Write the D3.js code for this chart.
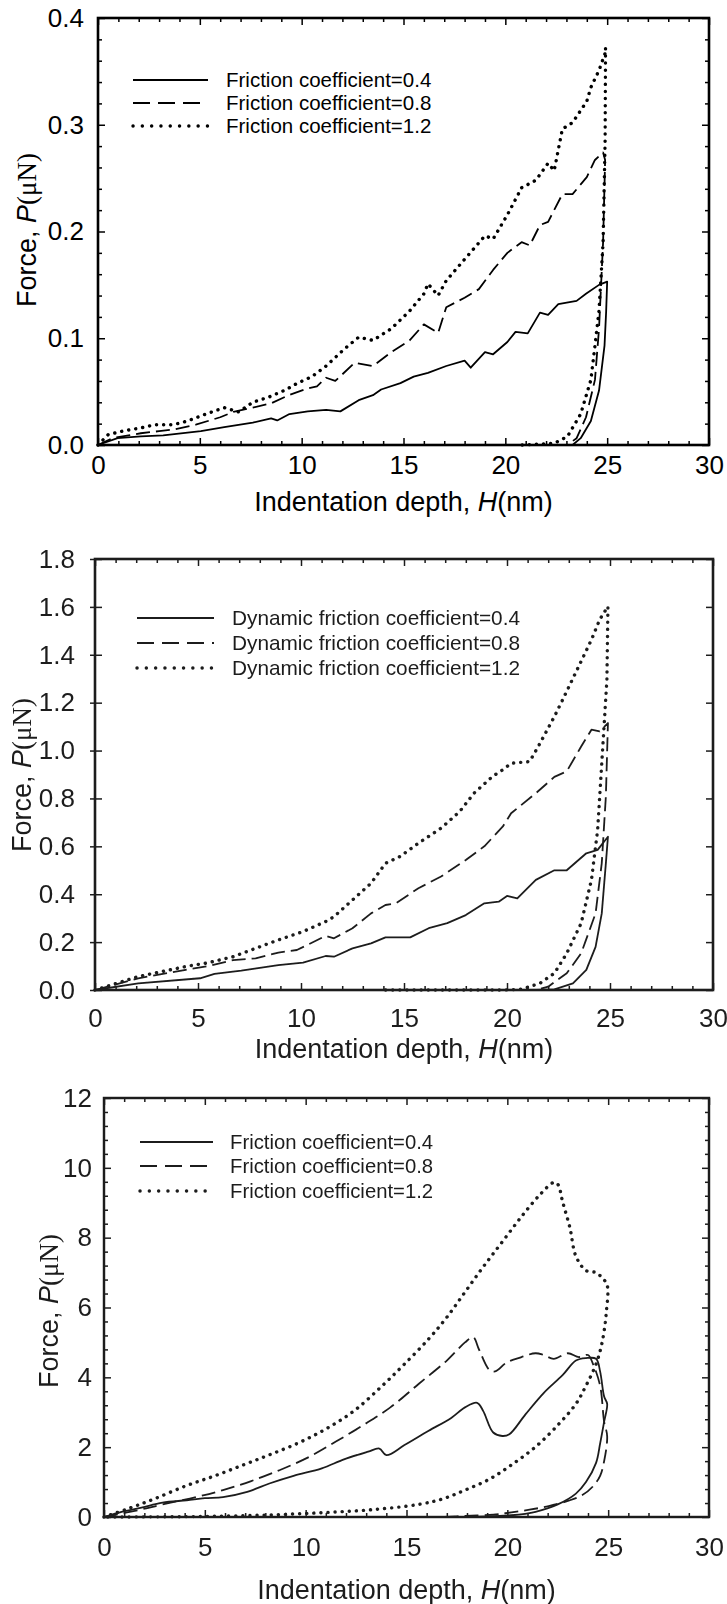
<!DOCTYPE html>
<html>
<head>
<meta charset="utf-8">
<script src="https://cdn.jsdelivr.net/npm/d3@7"></script>
<style>
  html, body { margin: 0; padding: 0; background: #fff; }
  svg { display: block; }
</style>
</head>
<body>
<svg id="fig" width="727" height="1604"></svg>
<script>
// ---- shared axis values ----
const depthTicks = [0, 5, 10, 15, 20, 25, 30];
const forceTicksA = [0, 0.1, 0.2, 0.3, 0.4];
const forceTicksB = [0, 0.2, 0.4, 0.6, 0.8, 1.0, 1.2, 1.4, 1.6, 1.8];
const forceTicksC = [0, 2, 4, 6, 8, 10, 12];

const legendA = ["Friction coefficient=0.4", "Friction coefficient=0.8", "Friction coefficient=1.2"];
const legendB = ["Dynamic friction coefficient=0.4", "Dynamic friction coefficient=0.8", "Dynamic friction coefficient=1.2"];
const legendC = ["Friction coefficient=0.4", "Friction coefficient=0.8", "Friction coefficient=1.2"];

// ---- panel A: [depth nm, force uN], loading then unloading ----
const aMu04 = [[0,0],[0.96,0.0064],[2.1,0.008],[3.2,0.009],[5.05,0.0129],[6.2,0.0167],[7.6,0.021],[8.5,0.025],[8.8,0.023],[9.4,0.029],[10.3,0.0315],[11.2,0.033],[11.9,0.0315],[12.8,0.042],[13.5,0.0467],[13.9,0.052],[14.85,0.058],[15.5,0.064],[16.2,0.0676],[17.1,0.074],[18.0,0.079],[18.3,0.0724],[19.0,0.087],[19.4,0.085],[20.1,0.0965],[20.5,0.106],[21.1,0.1046],[21.7,0.124],[22.1,0.122],[22.6,0.132],[23.5,0.135],[23.96,0.1416],[24.6,0.15],[25.0,0.153],[24.95,0.125],[24.87,0.093],[24.6,0.051],[24.2,0.0225],[23.7,0.0064],[23.3,0]];
const aMu08 = [[0,0],[0.7,0.0064],[2.1,0.011],[3,0.013],[3.7,0.0145],[4.8,0.019],[6,0.026],[6.65,0.031],[7.6,0.035],[8.5,0.039],[9.4,0.047],[10.3,0.053],[10.75,0.055],[11.2,0.063],[11.65,0.060],[12.6,0.077],[13.5,0.074],[14.4,0.087],[15.3,0.098],[16,0.113],[16.7,0.105],[17.1,0.129],[18,0.138],[18.7,0.146],[19.4,0.164],[20.1,0.18],[20.8,0.19],[21.2,0.187],[21.7,0.206],[22.1,0.209],[22.8,0.235],[23.3,0.235],[24,0.251],[24.4,0.267],[24.8,0.274],[24.9,0.267],[24.8,0.19],[24.6,0.109],[24.4,0.061],[23.96,0.026],[23.5,0.0064],[23.05,0]];
const aMu12 = [[0,0],[0.5,0.0097],[1.2,0.013],[2.1,0.016],[2.8,0.019],[3.7,0.019],[4.4,0.0225],[5.3,0.029],[6.2,0.035],[6.9,0.031],[7.6,0.040],[8.4,0.045],[9.2,0.0515],[9.8,0.058],[10.5,0.064],[11.2,0.074],[12.1,0.09],[12.8,0.101],[13.5,0.098],[14.4,0.109],[15.3,0.1255],[16,0.1416],[16.2,0.151],[16.7,0.14],[17.1,0.154],[18,0.174],[19,0.196],[19.4,0.193],[20.1,0.2156],[20.8,0.241],[21.5,0.248],[22.1,0.264],[22.4,0.257],[22.8,0.296],[23.3,0.302],[24,0.322],[24.2,0.335],[24.6,0.351],[24.9,0.367],[24.92,0.372],[24.9,0.286],[24.8,0.19],[24.6,0.126],[24.4,0.093],[24.2,0.061],[23.7,0.029],[23.05,0.008],[22.4,0.0016],[20.8,0]];

// ---- panel B ----
const bMu04 = [[0,0],[2.1,0.028],[5.1,0.049],[5.8,0.067],[7.1,0.081],[8.9,0.104],[10.1,0.114],[11.2,0.142],[11.6,0.139],[12.5,0.174],[13.4,0.195],[14.1,0.22],[15.3,0.22],[16.2,0.258],[17.1,0.279],[18,0.313],[18.9,0.362],[19.6,0.369],[20,0.393],[20.5,0.383],[21.4,0.46],[22.3,0.5],[22.9,0.5],[23.85,0.571],[24.4,0.585],[24.9,0.64],[24.8,0.53],[24.6,0.32],[24.3,0.18],[23.85,0.084],[23.2,0.028],[22.3,0.003],[21.4,0]];
const bMu08 = [[0,0],[2.1,0.049],[4.4,0.084],[5.5,0.1],[6.7,0.125],[7.8,0.132],[8.9,0.156],[9.8,0.167],[11.2,0.226],[11.6,0.216],[12.5,0.258],[13.4,0.32],[14.1,0.355],[14.6,0.362],[15.7,0.425],[16.8,0.474],[18,0.543],[18.9,0.6],[19.8,0.683],[20.2,0.738],[21.4,0.822],[22.3,0.89],[22.9,0.913],[23.6,1.017],[24.1,1.087],[24.5,1.08],[24.9,1.115],[24.8,0.81],[24.6,0.53],[24.3,0.32],[23.6,0.153],[22.9,0.07],[22,0.014],[21.4,0]];
const bMu12 = [[0,0],[2.1,0.056],[4.4,0.098],[5.5,0.114],[6.7,0.139],[7.8,0.174],[8.9,0.209],[10.1,0.244],[11.2,0.286],[11.6,0.306],[12.5,0.376],[13.4,0.446],[14.1,0.529],[14.8,0.557],[15.7,0.613],[16.8,0.676],[17.7,0.745],[18.4,0.822],[19.3,0.892],[19.8,0.92],[20.2,0.947],[21.1,0.954],[21.6,1.03],[22.3,1.142],[22.7,1.212],[23.4,1.337],[24.1,1.463],[24.5,1.547],[24.9,1.602],[24.85,1.296],[24.6,0.947],[24.4,0.669],[24.1,0.46],[23.6,0.279],[22.9,0.153],[22.3,0.07],[21.6,0.028],[20.7,0.003],[19.8,0],[14.1,0]];

// ---- panel C ----
const cMu04 = [[0,0],[0.87,0.15],[1.8,0.26],[2.9,0.41],[4.1,0.48],[5,0.54],[5.9,0.57],[7.1,0.72],[8.2,0.96],[9.4,1.18],[10.8,1.39],[11.9,1.65],[13.1,1.87],[13.65,1.96],[14,1.77],[14.9,2.06],[16.1,2.47],[17.2,2.83],[17.9,3.14],[18.5,3.27],[18.8,3.04],[19.3,2.42],[19.75,2.32],[20.1,2.37],[20.9,2.94],[21.8,3.55],[22.75,4.07],[23.4,4.48],[23.9,4.55],[24.4,4.53],[24.6,4.17],[24.8,3.45],[24.95,3.24],[24.8,2.73],[24.6,2.1],[24.4,1.55],[23.9,1.0],[23.4,0.67],[22.5,0.36],[21.4,0.15],[20.2,0.05],[19,0.02],[17.9,0]];
const cMu08 = [[0,0],[1.8,0.21],[2.9,0.36],[4.56,0.57],[5.9,0.77],[7.3,1.03],[8.7,1.34],[10.1,1.7],[11.5,2.16],[12.85,2.63],[14.2,3.14],[15.6,3.81],[17,4.48],[17.9,5.0],[18.3,5.15],[18.6,4.79],[19.1,4.22],[19.4,4.17],[19.98,4.43],[20.7,4.58],[21.4,4.69],[21.8,4.64],[22.3,4.53],[23,4.69],[23.55,4.58],[24,4.64],[24.25,4.38],[24.6,3.76],[24.8,2.73],[24.95,2.32],[24.8,1.6],[24.6,1.18],[24.25,0.88],[23.7,0.62],[23,0.46],[22.05,0.31],[21.1,0.21],[20.2,0.13],[19.3,0.07],[17.9,0.03],[16.8,0]];
const cMu12 = [[0,0],[1.3,0.26],[2.5,0.52],[4.1,0.9],[5.5,1.18],[6.9,1.49],[8.2,1.78],[9.6,2.11],[11,2.52],[12.4,3.04],[13.8,3.76],[14.9,4.38],[16.1,5.1],[17,5.72],[17.9,6.44],[18.8,7.16],[19.75,7.88],[20.7,8.6],[21.6,9.22],[22.3,9.58],[22.5,9.53],[22.75,9.01],[23.1,8.29],[23.4,7.47],[23.9,7.06],[24.4,7.0],[24.7,6.85],[24.95,6.64],[24.9,5.82],[24.7,5.0],[24.4,4.38],[23.9,3.76],[23.4,3.24],[22.5,2.63],[21.4,2.01],[20.2,1.49],[19.1,1.08],[17.9,0.77],[16.8,0.52],[15.6,0.36],[13.3,0.21],[11,0.13],[8.7,0.07],[6.4,0.03],[4.1,0.01],[0,0]];

const SANS = "'Liberation Sans', Arial, Helvetica, sans-serif";
const SERIF = "'Liberation Serif', 'Times New Roman', serif";

const svg = d3.select("#fig");
svg.append("defs").append("filter").attr("id", "soft")
  .append("feGaussianBlur").attr("stdDeviation", 0.55);

const lineStyles = {
  solid:  { dash: null,      width: 1.8, cap: "butt" },
  dashed: { dash: "14,6",    width: 1.8, cap: "butt" },
  dotted: { dash: "0.1,7",   width: 3.4, cap: "round" }
};

function styleAxis(sel, color, fontSize) {
  sel.select(".domain").remove();
  sel.selectAll("line").attr("stroke", color).attr("stroke-width", 1.5);
  sel.selectAll("text").attr("fill", color)
    .style("font-family", SANS).style("font-size", fontSize + "px");
}

function drawPanel(o) {
  const g = svg.append("g");
  if (o.soft) g.attr("filter", "url(#soft)");
  const [L, R] = o.xr, [B, T] = o.yr;
  const x = d3.scaleLinear().domain([0, 30]).range(o.xr);
  const y = d3.scaleLinear().domain(o.yDomain).range(o.yr);
  const isMajor = (list, v) => list.some(t => Math.abs(t - v) < 1e-9);
  const xMinor = d3.range(0, 30.0001, 1).filter(v => !isMajor(depthTicks, v));
  const yMinor = o.yMinorStep
    ? d3.range(o.yDomain[0], o.yDomain[1] + 1e-9, o.yMinorStep).filter(v => !isMajor(o.yTicks, v))
    : [];
  const col = o.color;

  // bottom axis with labels, inward ticks
  g.append("g").attr("transform", `translate(0,${B})`)
    .call(d3.axisBottom(x).tickValues(depthTicks).tickSize(-7).tickPadding(o.xPad).tickFormat(d3.format("d")))
    .call(s => styleAxis(s, col, o.tickFont));
  g.append("g").attr("transform", `translate(0,${B})`)
    .call(d3.axisBottom(x).tickValues(xMinor).tickSize(-4).tickFormat(""))
    .call(s => styleAxis(s, col, o.tickFont));
  // top
  g.append("g").attr("transform", `translate(0,${T})`)
    .call(d3.axisTop(x).tickValues(depthTicks).tickSize(-7).tickFormat(""))
    .call(s => styleAxis(s, col, o.tickFont));
  g.append("g").attr("transform", `translate(0,${T})`)
    .call(d3.axisTop(x).tickValues(xMinor).tickSize(-4).tickFormat(""))
    .call(s => styleAxis(s, col, o.tickFont));
  // left with labels
  g.append("g").attr("transform", `translate(${L},0)`)
    .call(d3.axisLeft(y).tickValues(o.yTicks).tickSize(-7).tickPadding(o.yPad).tickFormat(d3.format(o.yFormat)))
    .call(s => styleAxis(s, col, o.tickFont));
  if (o.leftOut) {
    g.append("g").attr("transform", `translate(${L},0)`)
      .call(d3.axisLeft(y).tickValues(o.yTicks).tickSize(o.leftOut).tickFormat(""))
      .call(s => styleAxis(s, col, o.tickFont));
  }
  if (yMinor.length) {
    g.append("g").attr("transform", `translate(${L},0)`)
      .call(d3.axisLeft(y).tickValues(yMinor).tickSize(-4).tickFormat(""))
      .call(s => styleAxis(s, col, o.tickFont));
    g.append("g").attr("transform", `translate(${R},0)`)
      .call(d3.axisRight(y).tickValues(yMinor).tickSize(-4).tickFormat(""))
      .call(s => styleAxis(s, col, o.tickFont));
  }
  g.append("g").attr("transform", `translate(${R},0)`)
    .call(d3.axisRight(y).tickValues(o.yTicks).tickSize(-7).tickFormat(""))
    .call(s => styleAxis(s, col, o.tickFont));

  // frame
  g.append("rect").attr("x", L).attr("y", T).attr("width", R - L).attr("height", B - T)
    .attr("fill", "none").attr("stroke", col).attr("stroke-width", o.frameWidth);

  // curves
  const line = d3.line().x(d => x(d[0])).y(d => y(d[1])).curve(o.curve);
  o.series.forEach(s => {
    const st = lineStyles[s.style];
    g.append("path").datum(s.data).attr("d", line)
      .attr("fill", "none").attr("stroke", col)
      .attr("stroke-width", st.width).attr("stroke-linecap", st.cap)
      .attr("stroke-linejoin", "round")
      .attr("stroke-dasharray", st.dash);
  });

  // legend
  const lg = o.legend;
  o.series.forEach((s, i) => {
    const st = lineStyles[s.style];
    const yy = lg.rows[i];
    g.append("line").attr("x1", lg.x0).attr("x2", lg.x1).attr("y1", yy).attr("y2", yy)
      .attr("stroke", col).attr("stroke-width", s.style === "dotted" ? 3.4 : 2.2)
      .attr("stroke-linecap", st.cap)
      .attr("stroke-dasharray", s.style === "dashed" ? "17,8" : s.style === "dotted" ? "0.1,9.2" : null);
    g.append("text").attr("x", lg.tx).attr("y", yy).attr("dy", "0.36em")
      .attr("fill", col).style("font-family", SANS).style("font-size", lg.font + "px")
      .text(lg.labels[i]);
  });

  // x title
  const xt = g.append("text").attr("x", (L + R) / 2).attr("y", o.xTitleY)
    .attr("text-anchor", "middle").attr("fill", col)
    .style("font-family", SANS).style("font-size", o.titleFont + "px");
  xt.append("tspan").text("Indentation depth, ");
  xt.append("tspan").style("font-style", "italic").text("H");
  xt.append("tspan").text("(nm)");

  // y title
  const yt = g.append("text")
    .attr("transform", `translate(${o.yTitleX},${o.yTitleCY}) rotate(-90)`)
    .attr("text-anchor", "middle").attr("fill", col)
    .style("font-family", SANS).style("font-size", o.titleFont + "px");
  yt.append("tspan").text("Force, ");
  yt.append("tspan").style("font-style", "italic").text("P");
  yt.append("tspan").style("font-family", SERIF).text("(\u03BCN)");
}

drawPanel({
  xr: [98, 709], yr: [445, 18], yDomain: [0, 0.4], yTicks: forceTicksA, yMinorStep: 0.02,
  yFormat: ".1f", xPad: 11, yPad: 14, tickFont: 26, titleFont: 27, color: "#000",
  frameWidth: 2.6, curve: d3.curveLinear, soft: false,
  series: [{ data: aMu04, style: "solid" }, { data: aMu08, style: "dashed" }, { data: aMu12, style: "dotted" }],
  legend: { labels: legendA, x0: 133, x1: 208, tx: 226, rows: [80, 103, 126], font: 20.5 },
  xTitleY: 511, yTitleX: 36, yTitleCY: 230
});

drawPanel({
  xr: [95, 713], yr: [990, 559], yDomain: [0, 1.8], yTicks: forceTicksB, yMinorStep: null,
  yFormat: ".1f", xPad: 19, yPad: 20, leftOut: 5, tickFont: 26, titleFont: 27, color: "#1c1c1c",
  frameWidth: 2.6, curve: d3.curveLinear, soft: true,
  series: [{ data: bMu04, style: "solid" }, { data: bMu08, style: "dashed" }, { data: bMu12, style: "dotted" }],
  legend: { labels: legendB, x0: 137, x1: 214, tx: 232, rows: [618, 643, 668], font: 20.8 },
  xTitleY: 1058, yTitleX: 31, yTitleCY: 775
});

drawPanel({
  xr: [104, 709], yr: [1517, 1098], yDomain: [0, 12], yTicks: forceTicksC, yMinorStep: 0.4,
  yFormat: "d", xPad: 21, yPad: 12, tickFont: 26, titleFont: 27, color: "#1c1c1c",
  frameWidth: 2.4, curve: d3.curveCatmullRom.alpha(0.5), soft: true,
  series: [{ data: cMu04, style: "solid" }, { data: cMu08, style: "dashed" }, { data: cMu12, style: "dotted" }],
  legend: { labels: legendC, x0: 140, x1: 213, tx: 230, rows: [1142, 1166, 1191], font: 20.3 },
  xTitleY: 1599, yTitleX: 58, yTitleCY: 1311
});
</script>
</body>
</html>
